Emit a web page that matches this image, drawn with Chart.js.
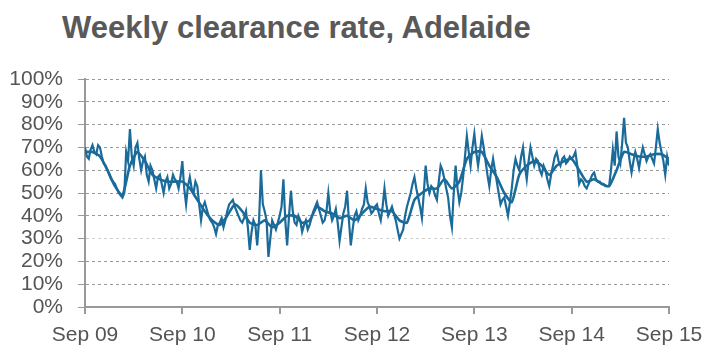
<!DOCTYPE html>
<html lang="en">

<head>
  <meta charset="UTF-8">
  <script src="https://cdn.jsdelivr.net/npm/chart.js"></script>
  <style>
    body {
      margin: 0;
      background: #fff;
    }

    .wrap {
      position: relative;
      width: 724px;
      height: 360px;
    }

    .title {
      position: absolute;
      left: 62px;
      top: 10px;
      font: bold 31px "Liberation Sans", Arial, sans-serif;
      color: #595959;
    }

    #myChart {
      position: absolute;
      left: 0;
      top: 0;
    }
  </style>
</head>

<body>
  <div class="wrap">
    <div class="title">Weekly clearance rate, Adelaide</div>
    <canvas id="myChart" width="724" height="360"></canvas>
  </div>
</body>
<script>
  // x axis is in weeks since Sep 09, one label per year
  const yearLabels = ['Sep 09', 'Sep 10', 'Sep 11', 'Sep 12', 'Sep 13', 'Sep 14', 'Sep 15'];
  const yTicks = [0, 10, 20, 30, 40, 50, 60, 70, 80, 90, 100];

  // weekly clearance rate (%)
  const rawRate = [
    70, 66, 65, 69, 71, 68, 67, 71, 70, 66, 63, 62, 60, 58, 56, 55, 54, 52, 50, 49,
    48, 50, 68, 64, 78, 66, 62, 70, 72, 65, 60, 64, 66, 58, 55, 62, 60, 56, 52, 57,
    58, 54, 50, 55, 57, 52, 54, 58, 56, 55, 52, 57, 64, 52, 45, 53, 57, 52, 50, 55,
    53, 45, 38, 44, 46, 43, 40, 38, 37, 35, 32, 36, 37, 39, 35, 38, 42, 45, 46, 47,
    44, 42, 40, 38, 37, 39, 42, 35, 25, 33, 38, 36, 27, 38, 60, 45, 42, 38, 22, 30,
    38, 36, 34, 37, 40, 44, 56, 38, 27, 40, 51, 42, 37, 36, 40, 38, 33, 36, 38, 34,
    36, 39, 42, 44, 46, 43, 40, 37, 38, 42, 50, 42, 38, 40, 43, 37, 29, 35, 41, 44,
    51, 38, 27, 34, 40, 42, 38, 40, 43, 45, 52, 46, 44, 41, 42, 44, 45, 41, 38, 44,
    52, 45, 40, 42, 44, 41, 38, 34, 30, 32, 34, 40, 44, 47, 50, 54, 57, 52, 48, 44,
    39, 50, 62, 54, 50, 53, 52, 49, 47, 55, 62, 60, 56, 52, 48, 40, 35, 50, 62, 52,
    46, 50, 57, 66, 75, 68, 62, 70, 76, 68, 62, 68, 75, 70, 64, 58, 53, 60, 65, 60,
    55, 50, 45, 47, 48, 44, 40, 46, 52, 60, 65, 62, 60, 66, 70, 62, 56, 64, 70, 66,
    62, 65, 64, 60, 58, 62, 60, 56, 53, 58, 62, 66, 68, 64, 62, 65, 66, 63, 64, 66,
    65, 66, 68, 62, 54, 56, 55, 53, 52, 54, 56, 58, 59, 56, 55, 55, 54, 54, 53, 53,
    53, 60, 69, 62, 77, 66, 63, 72, 83, 72, 70, 64, 59, 64, 68, 65, 61, 66, 70, 67,
    64, 66, 67, 65, 63, 70, 78, 72, 68, 64, 58, 66, 62
  ];

  // smoothed rate (%), read every 4 weeks
  const smoothRate = [
    68, 68, 66, 60, 53, 49, 62, 68, 64, 58, 56, 55, 55, 55, 52, 47, 42, 38, 36, 40,
    45, 42, 37, 36, 38, 35, 37, 40, 40, 37, 38, 44, 42, 41, 39, 40, 38, 41, 44, 43,
    42, 42, 38, 37, 47, 50, 52, 52, 56, 52, 55, 65, 68, 68, 62, 57, 50, 46, 58, 62,
    64, 62, 58, 62, 64, 65, 60, 55, 56, 54, 53, 60, 68, 67, 66, 66, 67, 67, 65
  ];

  const lineColor = '#1a6a9a';
  const axisColor = '#999999';
  const labelFont = { family: '"Liberation Sans", Arial, sans-serif', size: 21 };

  const ctx = document.getElementById('myChart').getContext('2d');
  const chart = new Chart(ctx, {
    type: 'line',
    data: {
      datasets: [
        {
          label: 'Weekly',
          data: rawRate.map((v, i) => ({ x: i, y: v })),
          borderColor: lineColor,
          borderWidth: 2.2,
          pointRadius: 0,
          tension: 0,
        },
        {
          label: 'Smoothed',
          data: smoothRate.map((v, i) => ({ x: i * 4, y: v })),
          borderColor: lineColor,
          borderWidth: 2.6,
          pointRadius: 0,
          tension: 0.2,
        }
      ]
    },
    options: {
      responsive: false,
      animation: false,
      layout: { padding: { top: 79, right: 55, bottom: 0, left: 0 } },
      plugins: {
        legend: { display: false },
        tooltip: { enabled: false }
      },
      scales: {
        x: {
          type: 'linear',
          min: 0,
          max: 312,
          afterBuildTicks: (axis) => {
            axis.ticks = yearLabels.map((l, i) => ({ value: i * 52 }));
          },
          afterFit: (axis) => { axis.height = 53; },
          ticks: {
            callback: (v) => yearLabels[v / 52],
            color: '#555555',
            font: labelFont,
            padding: 9,
            maxRotation: 0,
            autoSkip: false,
          },
          grid: {
            drawOnChartArea: false,
            tickLength: 7,
            tickColor: axisColor,
            lineWidth: 2,
          },
          border: { color: axisColor, width: 2 }
        },
        y: {
          min: 0,
          max: 100,
          afterBuildTicks: (axis) => {
            axis.ticks = yTicks.map(v => ({ value: v }));
          },
          afterFit: (axis) => { axis.width = 85; },
          ticks: {
            callback: (v) => v + '%',
            color: '#555555',
            font: labelFont,
            padding: 15,
            autoSkip: false,
          },
          grid: {
            color: (c) => c.tick && c.tick.value === 30 ? '#d0d0d0' : '#999999',
            lineWidth: 1,
            tickLength: 7,
            tickColor: axisColor,
          },
          border: { color: axisColor, width: 2, dash: [3, 3] }
        }
      }
    }
  });
</script>

</html>
